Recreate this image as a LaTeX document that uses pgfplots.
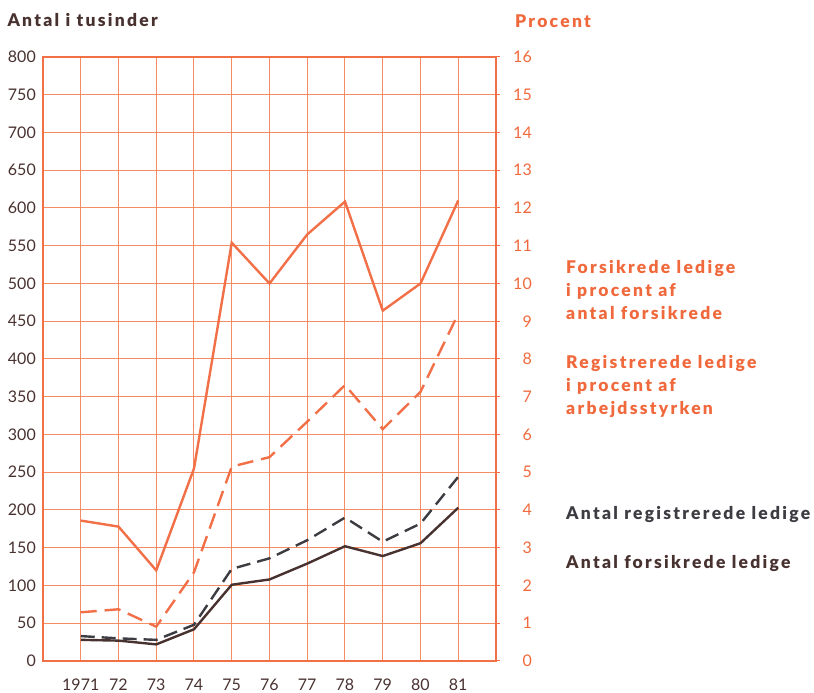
\documentclass[border=0pt]{standalone}
\usepackage{fontspec}
\setmainfont{Lato}
\newfontfamily\lbl[LetterSpace=13, BoldFont={Lato Black}]{Lato}
\usepackage{pgfplots}
\pgfplotsset{compat=1.18}
\definecolor{gridor}{RGB}{246,140,100}
\definecolor{lineor}{RGB}{242,112,72}
\definecolor{txtor}{RGB}{240,105,60}
\definecolor{darkbr}{RGB}{72,50,48}
\definecolor{darksl}{RGB}{60,60,66}
\begin{document}
\begin{tikzpicture}[x=1pt,y=1pt]
\useasboundingbox (0,0) rectangle (814,693);
\begin{axis}[
  at={(43pt,32pt)}, anchor=south west,
  scale only axis, width=453pt, height=604pt,
  xmin=1970, xmax=1982, ymin=0, ymax=800,
  xtick={1971,...,1981},
  xticklabels={1971,72,73,74,75,76,77,78,79,80,81},
  ytick={0,50,...,800},
  grid=major, major grid style={gridor, line width=1.0pt},
  axis line style={lineor, line width=2.2pt},
  major tick length=0pt,
  tick label style={font=\fontsize{16}{16}\selectfont, text=darkbr, inner sep=0pt},
  yticklabel style={xshift=-7pt},
  xticklabel style={yshift=-18pt},
  /pgf/number format/assume math mode=true,
  /pgf/number format/1000 sep={},
  clip=false,
]
\addplot[darkbr, line width=2.4pt] coordinates {
 (1971,28) (1972,27) (1973,22) (1974,42) (1975,101) (1976,108)
 (1977,129) (1978,152) (1979,139) (1980,156) (1981,203)};
\addplot[darksl, line width=2.4pt, dash pattern=on 14pt off 7pt] coordinates {
 (1971,33) (1972,30) (1973,28) (1974,48) (1975,122) (1976,136)
 (1977,160) (1978,190) (1979,158) (1980,182) (1981,244)};
\end{axis}
\begin{axis}[
  at={(43pt,32pt)}, anchor=south west,
  scale only axis, width=453pt, height=604pt,
  xmin=1970, xmax=1982, ymin=0, ymax=16,
  axis x line=none, axis y line*=right,
  ytick={0,...,16},
  axis line style={-, lineor, line width=2.2pt},
  tick style={lineor, line width=1pt},
  major tick length=4pt, tick align=outside,
  tick label style={font=\fontsize{16}{16}\selectfont, text=txtor, inner sep=0pt},
  yticklabel style={anchor=east, xshift=32pt},
  /pgf/number format/assume math mode=true,
  clip=false,
]
\addplot[lineor, line width=2.4pt] coordinates {
 (1971,3.72) (1972,3.56) (1973,2.40) (1974,5.10) (1975,11.08) (1976,10.00)
 (1977,11.30) (1978,12.17) (1979,9.28) (1980,10.00) (1981,12.20)};
\addplot[lineor, line width=2.4pt, dash pattern=on 16pt off 8pt] coordinates {
 (1971,1.29) (1972,1.37) (1973,0.91) (1974,2.35) (1975,5.15) (1976,5.40)
 (1977,6.34) (1978,7.31) (1979,6.14) (1980,7.13) (1981,9.20)};
\end{axis}
\begin{scope}[every node/.style={anchor=base west, inner sep=0pt, font=\lbl\fontsize{17.5}{17.5}\selectfont\bfseries}]
\node[text=darkbr] at (7.3,666.3) {Antal i tusinder};
\node[text=txtor] at (515,665.3) {Procent};
\node[text=txtor] at (566,419.7) {Forsikrede ledige};
\node[text=txtor] at (566,396.3) {i procent af};
\node[text=txtor] at (566,373.5) {antal forsikrede};
\node[text=txtor] at (566,324.7) {Registrerede ledige};
\node[text=txtor] at (566,301.3) {i procent af};
\node[text=txtor] at (566,278.0) {arbejdsstyrken};
\node[text=darksl] at (566,173.7) {Antal registrerede ledige};
\node[text=darkbr] at (566,124.7) {Antal forsikrede ledige};
\end{scope}
\end{tikzpicture}
\end{document}
